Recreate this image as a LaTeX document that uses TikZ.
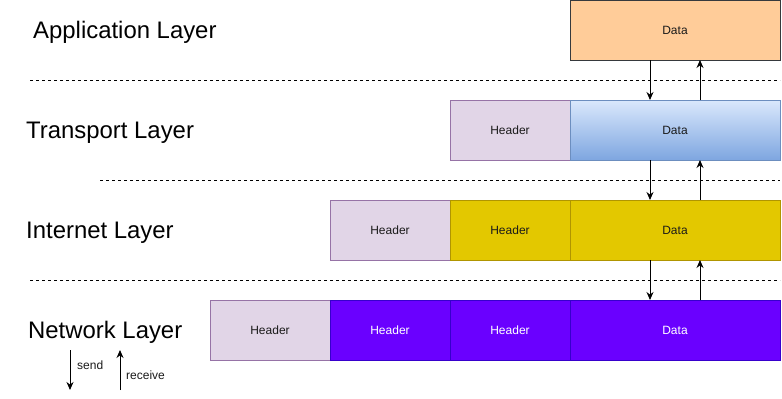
\documentclass[tikz,border=0pt]{standalone}
\usepackage{fontspec}
\setmainfont{Liberation Sans}
\definecolor{appfill}{HTML}{FFCC99}
\definecolor{appdraw}{HTML}{36393D}
\definecolor{hdrfill}{HTML}{E1D5E7}
\definecolor{hdrdraw}{HTML}{9673A6}
\definecolor{trtop}{HTML}{DAE8FC}
\definecolor{trbot}{HTML}{7EA6E0}
\definecolor{trdraw}{HTML}{6C8EBF}
\definecolor{infill}{HTML}{E3C800}
\definecolor{indraw}{HTML}{B09500}
\definecolor{netfill}{HTML}{6A00FF}
\definecolor{netdraw}{HTML}{3700CC}
\definecolor{txtgray}{HTML}{1A1A1A}
\usetikzlibrary{arrows.meta,calc}

\begin{document}
\begin{tikzpicture}[x=1pt,y=-1pt,
  layer/.style={anchor=base west, inner sep=0pt, font=\fontsize{23.9}{28}\selectfont},
  cell/.style={draw, anchor=north west, line width=1pt, inner sep=0pt, outer sep=0pt,
    minimum width=120pt, minimum height=60pt, text=txtgray, font=\fontsize{12}{14}\selectfont},
  datacell/.style={cell, minimum width=210pt},
  hdr/.style={cell, draw=hdrdraw, fill=hdrfill},
  ylw/.style={draw=indraw, fill=infill},
  prp/.style={draw=netdraw, fill=netfill, text=white},
  sep/.style={line width=1pt, dash pattern=on 3pt off 3pt},
  flow/.style={line width=1pt, -{Stealth[length=8pt,width=7pt]}},
  note/.style={anchor=west, inner sep=0pt, font=\fontsize{12}{14}\selectfont, text=txtgray}
]
  \useasboundingbox (0,0) rectangle (782,399);

  %% Layer names
  \node[layer] (appname) at (33,38) {Application Layer};
  \node[layer] (trname) at (26,138) {Transport Layer};
  \node[layer] (inname) at (26,238) {Internet Layer};
  \node[layer] (netname) at (28,338) {Network Layer};

  %% Layer borders
  \draw[sep] (30,80) -- (780,80);
  \draw[sep] (100,180) -- (780,180);
  \draw[sep] (30,280) -- (780,280);

  %% Application layer
  \node[datacell, draw=appdraw, fill=appfill] (appdata) at (570,0) {Data};

  %% Transport layer
  \node[hdr] (trhdr) at (450,100) {Header};
  \node[datacell, draw=trdraw, top color=trtop, bottom color=trbot] (trdata) at (570,100) {Data};

  %% Internet layer
  \node[hdr] (inhdra) at (330,200) {Header};
  \node[cell, ylw] (inhdrb) at (450,200) {Header};
  \node[datacell, ylw] (indata) at (570,200) {Data};

  %% Network layer
  \node[hdr] (nethdra) at (210,300) {Header};
  \node[cell, prp] (nethdrb) at (330,300) {Header};
  \node[cell, prp] (nethdrc) at (450,300) {Header};
  \node[datacell, prp] (netdata) at (570,300) {Data};

  %% Send and receive between layers
  \draw[flow] ([xshift=80pt]appdata.south west) -- ([xshift=80pt]trdata.north west);
  \draw[flow] ([xshift=130pt]trdata.north west) -- ([xshift=130pt]appdata.south west);
  \draw[flow] ([xshift=80pt]trdata.south west) -- ([xshift=80pt]indata.north west);
  \draw[flow] ([xshift=130pt]indata.north west) -- ([xshift=130pt]trdata.south west);
  \draw[flow] ([xshift=80pt]indata.south west) -- ([xshift=80pt]netdata.north west);
  \draw[flow] ([xshift=130pt]netdata.north west) -- ([xshift=130pt]indata.south west);

  %% Legend
  \coordinate (sendtop) at (70,350);
  \coordinate (sendbot) at (70,390);
  \coordinate (rcvbot) at (120,390);
  \coordinate (rcvtop) at (120,350);
  \draw[flow] (sendtop) -- (sendbot);
  \draw[flow] (rcvbot) -- (rcvtop);
  \node[note] (sendtxt) at (77,365) {send};
  \node[note] (rcvtxt) at (126,375) {receive};
\end{tikzpicture}
\end{document}
